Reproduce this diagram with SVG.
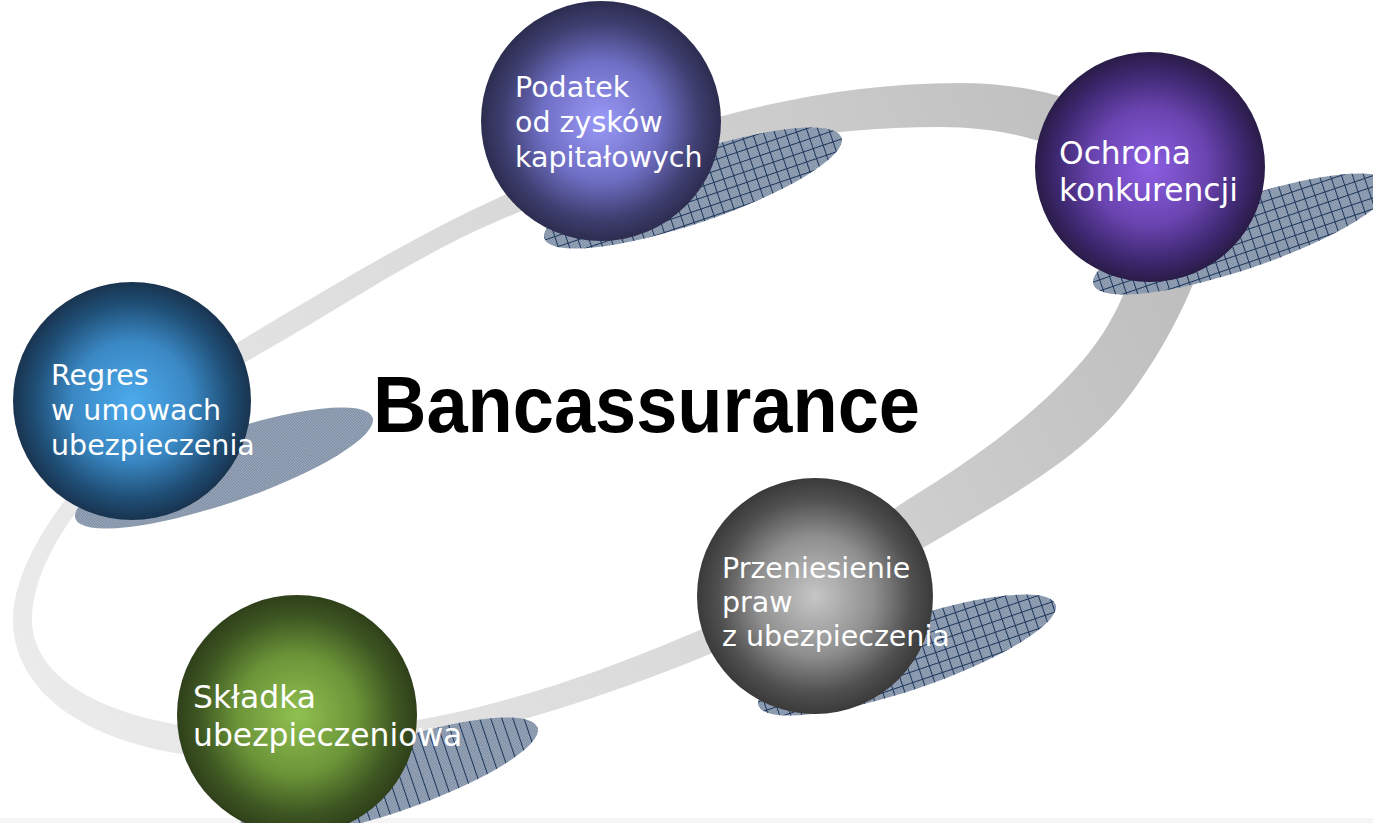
<svg xmlns="http://www.w3.org/2000/svg" width="1373" height="823" viewBox="0 0 1373 823">
<defs>
<style>
.lbl{font-family:"DejaVu Sans","Verdana",sans-serif;font-size:28.5px;fill:#ffffff}
.big{font-size:31.3px}
.mid{font-size:31.4px}
.title{font-family:"Liberation Sans",Arial,sans-serif;font-weight:bold;font-size:80px;fill:#000000}
</style>
<linearGradient id="ringGrad" gradientUnits="userSpaceOnUse" x1="0" y1="700" x2="1150" y2="150">
<stop offset="0" stop-color="#ececec"/>
<stop offset="0.5" stop-color="#dadada"/>
<stop offset="1" stop-color="#bdbdbd"/>
</linearGradient>
<radialGradient id="gPurpleBlue" cx="0.5" cy="0.5" r="0.5">
<stop offset="0" stop-color="#9a9af8"/>
<stop offset="0.5" stop-color="#6e6ec4"/>
<stop offset="0.82" stop-color="#3e3e70"/>
<stop offset="1" stop-color="#2d2d50"/>
</radialGradient>
<radialGradient id="gViolet" cx="0.5" cy="0.5" r="0.5">
<stop offset="0" stop-color="#8c5ee2"/>
<stop offset="0.5" stop-color="#6a44b0"/>
<stop offset="0.82" stop-color="#3d2870"/>
<stop offset="1" stop-color="#2a1c48"/>
</radialGradient>
<radialGradient id="gBlue" cx="0.5" cy="0.5" r="0.5">
<stop offset="0" stop-color="#4caaec"/>
<stop offset="0.5" stop-color="#3a88c4"/>
<stop offset="0.82" stop-color="#1f4e75"/>
<stop offset="1" stop-color="#193450"/>
</radialGradient>
<radialGradient id="gGray" cx="0.5" cy="0.5" r="0.5">
<stop offset="0" stop-color="#c6c6c6"/>
<stop offset="0.5" stop-color="#8f8f8f"/>
<stop offset="0.82" stop-color="#505050"/>
<stop offset="1" stop-color="#3a3a3a"/>
</radialGradient>
<radialGradient id="gGreen" cx="0.5" cy="0.5" r="0.5">
<stop offset="0" stop-color="#90c050"/>
<stop offset="0.5" stop-color="#6b9438"/>
<stop offset="0.82" stop-color="#3e5722"/>
<stop offset="1" stop-color="#2f401a"/>
</radialGradient>
<pattern id="dots" width="2" height="2" patternUnits="userSpaceOnUse">
<rect width="2" height="2" fill="#a9b5c5"/>
<rect width="1" height="1" fill="#6f8099"/>
<rect x="1" y="1" width="1" height="1" fill="#6f8099"/>
</pattern>
<pattern id="grid" width="10.5" height="10.5" patternUnits="userSpaceOnUse">
<path d="M0.5 0V10.5M0 0.5H10.5" stroke="#1c355a" stroke-width="1" fill="none"/>
</pattern>
<pattern id="vlines" width="10.5" height="10.5" patternUnits="userSpaceOnUse">
<path d="M0.5 0V10.5" stroke="#1c355a" stroke-width="1" fill="none"/>
</pattern>
</defs>

<rect x="0" y="0" width="1373" height="823" fill="#ffffff"/>
<rect x="0" y="818" width="1373" height="5" fill="#f4f5f4"/>

<g id="connectors">
<path fill="url(#ringGrad)" fill-rule="evenodd" d="M13 620 C13 530 142 400 253 333 C334 285 414 236 500 197 C646 131 800 83 960 83 C1095 83 1206 151 1206 235 C1206 265 1172 339 1130 395 C1087 453 1019 491 957 528 C869 580 778 628 683 665 C548 717 405 760 260 760 C112 760 13 704 13 620 Z M32 620 C32 530 154 413 263 352 C341 308 417 255 500 220 C638 162 790 127 940 127 C1049 127 1138 173 1138 230 C1138 270 1116 322 1083 360 C1038 412 982 453 923 490 C843 540 770 603 683 637 C556 691 418 733 280 733 C131 733 32 688 32 620 Z"/>
</g>

<g id="node-podatek">
<ellipse cx="693" cy="188" rx="157" ry="35" transform="rotate(-18.8 693 188)" fill="url(#dots)"/>
<ellipse cx="693" cy="188" rx="157" ry="35" transform="rotate(-18.8 693 188)" fill="url(#grid)"/>
<circle cx="601" cy="121" r="120" fill="url(#gPurpleBlue)"/>
<text class="lbl" x="515" y="97">Podatek</text>
<text class="lbl" x="515" y="132">od zysków</text>
<text class="lbl" x="515" y="167">kapitałowych</text>
</g>

<g id="node-ochrona">
<ellipse cx="1242" cy="234" rx="157" ry="35" transform="rotate(-18.8 1242 234)" fill="url(#dots)"/>
<ellipse cx="1242" cy="234" rx="157" ry="35" transform="rotate(-18.8 1242 234)" fill="url(#grid)"/>
<circle cx="1150" cy="167" r="115" fill="url(#gViolet)"/>
<text class="lbl big" x="1059" y="164">Ochrona</text>
<text class="lbl big" x="1059" y="201">konkurencji</text>
</g>

<g id="node-regres">
<ellipse cx="224" cy="468" rx="157" ry="35" transform="rotate(-18.8 224 468)" fill="url(#dots)"/>
<circle cx="132" cy="401" r="119" fill="url(#gBlue)"/>
<text class="lbl" x="51" y="385">Regres</text>
<text class="lbl" x="51" y="420">w umowach</text>
<text class="lbl" x="51" y="455">ubezpieczenia</text>
</g>

<g id="node-przeniesienie">
<ellipse cx="907" cy="655" rx="157" ry="35" transform="rotate(-18.8 907 655)" fill="url(#dots)"/>
<ellipse cx="907" cy="655" rx="157" ry="35" transform="rotate(-18.8 907 655)" fill="url(#grid)"/>
<circle cx="815" cy="596" r="118" fill="url(#gGray)"/>
<text class="lbl" x="722" y="578">Przeniesienie</text>
<text class="lbl" x="722" y="612">praw</text>
<text class="lbl" x="722" y="646">z ubezpieczenia</text>
</g>

<g id="node-skladka">
<ellipse cx="389" cy="778" rx="157" ry="35" transform="rotate(-18.8 389 778)" fill="url(#dots)"/>
<ellipse cx="389" cy="778" rx="157" ry="35" transform="rotate(-18.8 389 778)" fill="url(#vlines)"/>
<circle cx="297" cy="715" r="120" fill="url(#gGreen)"/>
<text class="lbl mid" x="193" y="708">Składka</text>
<text class="lbl mid" x="193" y="746">ubezpieczeniowa</text>
</g>

<g id="title">
<text class="title" x="373" y="432" textLength="547" lengthAdjust="spacingAndGlyphs">Bancassurance</text>
</g>
</svg>
